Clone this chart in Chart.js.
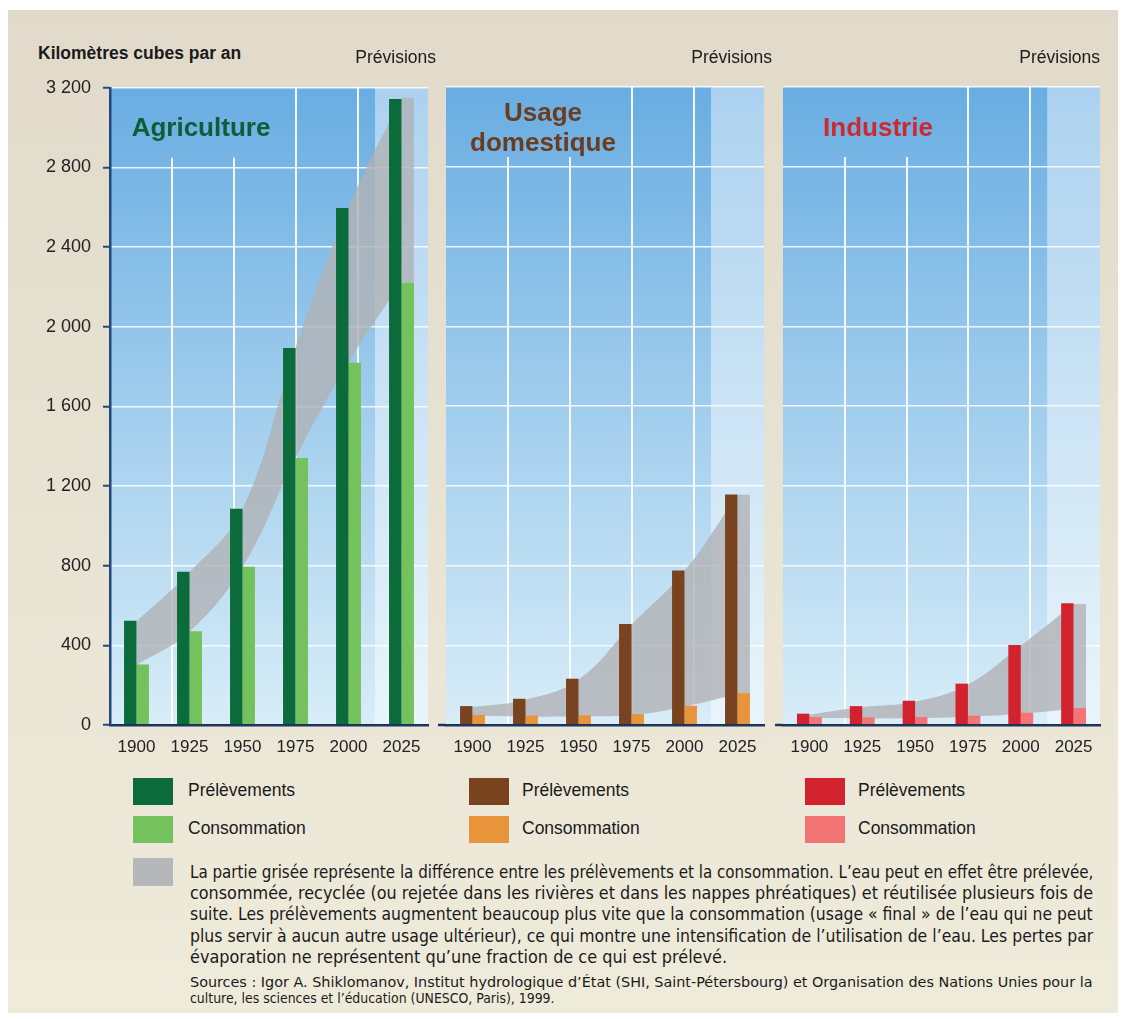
<!DOCTYPE html>
<html><head><meta charset="utf-8">
<script src="https://cdn.jsdelivr.net/npm/chart.js@4.4.1/dist/chart.umd.min.js"></script>
<style>
body{margin:0;background:#fff;width:1124px;height:1019px;overflow:hidden;font-family:'Liberation Sans',Arial,sans-serif;color:#1a1a1a;}
#frame{position:absolute;left:8px;top:10px;width:1110px;height:1003px;background:linear-gradient(#e1dacb,#efebdb);}
canvas{position:absolute;}
.t{position:absolute;white-space:nowrap;}
.n{font-size:17.5px;line-height:17.5px;}
.title{font-weight:bold;font-size:26px;line-height:26px;transform:translateX(-50%);text-align:center;}
.prev{font-size:17.5px;line-height:17.5px;transform:translateX(-100%);}
.sw{position:absolute;width:40px;height:27px;}
.fit{position:absolute;white-space:nowrap;transform-origin:0 0;font-family:'Liberation Sans Narrow','DejaVu Sans Condensed','Liberation Sans',Arial,sans-serif;}
</style></head><body>
<div id="frame"></div>
<canvas id="c1" width="416" height="705" style="left:20px;top:65px"></canvas>
<canvas id="c2" width="334" height="704" style="left:438px;top:66px"></canvas>
<canvas id="c3" width="333" height="704" style="left:775px;top:66px"></canvas>

<div class="t" style="left:38px;top:45px;font-weight:bold;font-size:17.5px;line-height:17.5px;">Kilomètres cubes par an</div>
<div class="t prev" style="left:436px;top:49px;">Prévisions</div>
<div class="t prev" style="left:772px;top:49px;">Prévisions</div>
<div class="t prev" style="left:1100px;top:49px;">Prévisions</div>

<div class="sw" style="left:133px;top:778px;background:#0b6b3a"></div>
<div class="sw" style="left:133px;top:816px;background:#74c25c"></div>
<div class="sw" style="left:469px;top:778px;background:#7a4320"></div>
<div class="sw" style="left:469px;top:816px;background:#e8943a"></div>
<div class="sw" style="left:805px;top:778px;background:#d2222d"></div>
<div class="sw" style="left:805px;top:816px;background:#f27474"></div>
<div class="t n" style="left:188px;top:782px;">Prélèvements</div>
<div class="t n" style="left:188px;top:820px;">Consommation</div>
<div class="t n" style="left:522px;top:782px;">Prélèvements</div>
<div class="t n" style="left:522px;top:820px;">Consommation</div>
<div class="t n" style="left:858px;top:782px;">Prélèvements</div>
<div class="t n" style="left:858px;top:820px;">Consommation</div>

<div class="sw" style="left:133px;top:858px;height:28px;background:#b6b7b9"></div>
<div class="fit" data-w="903" style="left:190px;top:864px;font-size:17px;line-height:17px;">La partie grisée représente la différence entre les prélèvements et la consommation. L’eau peut en effet être prélevée,</div>
<div class="fit" data-w="903" style="left:190px;top:885px;font-size:17px;line-height:17px;">consommée, recyclée (ou rejetée dans les rivières et dans les nappes phréatiques) et réutilisée plusieurs fois de</div>
<div class="fit" data-w="903" style="left:190px;top:906px;font-size:17px;line-height:17px;">suite. Les prélèvements augmentent beaucoup plus vite que la consommation (usage « final » de l’eau qui ne peut</div>
<div class="fit" data-w="903" style="left:190px;top:928px;font-size:17px;line-height:17px;">plus servir à aucun autre usage ultérieur), ce qui montre une intensification de l’utilisation de l’eau. Les pertes par</div>
<div class="fit" data-w="537" style="left:190px;top:949px;font-size:17px;line-height:17px;">évaporation ne représentent qu’une fraction de ce qui est prélevé.</div>
<div class="fit" data-w="903" style="left:190px;top:975px;font-size:14px;line-height:14px;">Sources : Igor A. Shiklomanov, Institut hydrologique d’État (SHI, Saint-Pétersbourg) et Organisation des Nations Unies pour la</div>
<div class="fit" data-w="365" style="left:190px;top:991px;font-size:14px;line-height:14px;">culture, les sciences et l’éducation (UNESCO, Paris), 1999.</div>

<script>
// ---- data (km³ per year) ----
const years = [1900, 1925, 1950, 1975, 2000, 2025];
const agriPrel = [520, 767, 1085, 1895, 2600, 3150];
const agriCons = [300, 468, 793, 1340, 1820, 2225];
const domPrel = [90, 127, 228, 503, 772, 1155];
const domCons = [46, 42, 44, 50, 92, 155];
const indPrel = [52, 90, 117, 203, 397, 607];
const indCons = [35, 33, 35, 42, 57, 80];
const yTicks = [0, 400, 800, 1200, 1600, 2000, 2400, 2800, 3200];

const CAT_PCT = 0.47;
const BAND = 'rgba(176,178,181,0.8)';
const AXIS = '#1b355f';
const FONT = "'Liberation Sans', Arial, sans-serif";

const bgPlugin = {
  id: 'bg',
  beforeDraw(chart) {
    const {ctx, chartArea: a, scales} = chart;
    ctx.save();
    const g = ctx.createLinearGradient(0, a.top, 0, a.bottom);
    g.addColorStop(0, '#69ade2');
    g.addColorStop(1, '#d8edf8');
    ctx.fillStyle = g;
    ctx.fillRect(a.left, a.top, a.width, a.height);
    const n = years.length;
    const fx = scales.x2.getPixelForValue((years[n - 2] + years[n - 1]) / 2);
    ctx.fillStyle = 'rgba(255,255,255,0.45)';
    ctx.fillRect(fx, a.top, a.right - fx, a.height);
    ctx.strokeStyle = 'rgba(255,255,255,0.9)';
    ctx.lineWidth = 2;
    for (let k = 1; k <= 4; k++) {
      const x = Math.round(a.left + k * a.width * 0.195);
      const y0 = k <= 2 ? a.top + 70 : a.top;
      ctx.beginPath(); ctx.moveTo(x, y0); ctx.lineTo(x, a.bottom); ctx.stroke();
    }
    ctx.restore();
  },
  afterDraw(chart, args, opts) {
    if (!opts.lead) return;
    const {ctx, chartArea: a} = chart;
    ctx.save();
    ctx.strokeStyle = AXIS; ctx.lineWidth = 2.5;
    ctx.beginPath(); ctx.moveTo(a.left - opts.lead, a.bottom); ctx.lineTo(a.left, a.bottom); ctx.stroke();
    ctx.restore();
  }
};

// panel: background, grid, axes and grey band (line chart)
function makePanel(id, prel, cons, showY) {
  const step = years[1] - years[0];
  const last = years.length - 1;
  const overhang = step / 2 * CAT_PCT;
  const upper = years.map((x, i) => ({x, y: prel[i]}));
  const lower = years.map((x, i) => ({x, y: cons[i]}));
  const upper2 = [{x: years[last], y: prel[last]}, {x: years[last] + overhang, y: prel[last]}];
  const lower2 = [{x: years[last], y: cons[last]}, {x: years[last] + overhang, y: cons[last]}];
  const lineBase = {xAxisID: 'x2', borderWidth: 0, pointRadius: 0, tension: 0.4};
  return new Chart(document.getElementById(id), {
    type: 'line',
    data: {
      labels: years.map(String),
      datasets: [
        Object.assign({}, lineBase, {label: 'écart', data: upper, fill: '+1', backgroundColor: BAND}),
        Object.assign({}, lineBase, {data: lower, fill: false}),
        Object.assign({}, lineBase, {data: upper2, fill: '+1', backgroundColor: BAND, tension: 0}),
        Object.assign({}, lineBase, {data: lower2, fill: false, tension: 0})
      ]
    },
    options: {
      responsive: false,
      animation: false,
      layout: {padding: showY ? {top: 17, right: 8, left: 0, bottom: 0} : {top: 21, right: 8, left: 8, bottom: 0}},
      plugins: {legend: {display: false}, tooltip: {enabled: false}, bg: {lead: showY ? 0 : 8}},
      scales: {
        x: {
          type: 'category', offset: true,
          grid: {display: false},
          border: {display: true, color: AXIS, width: 2.5},
          ticks: {color: '#222', font: {family: FONT, size: 17}, padding: 4, maxRotation: 0},
          afterFit: s => { s.height = 45; }
        },
        x2: {
          type: 'linear', display: false, offset: false,
          min: years[0] - step / 2, max: years[last] + step / 2
        },
        y: {
          min: yTicks[0], max: yTicks[yTicks.length - 1],
          afterBuildTicks: s => { s.ticks = yTicks.map(v => ({value: v})); },
          grid: {color: 'rgba(255,255,255,0.85)', lineWidth: 1.5, drawTicks: showY, tickLength: 7, tickColor: '#23477f', tickWidth: 2},
          border: {display: showY, color: '#23477f', width: 2.5},
          ticks: {
            display: showY, color: '#222', padding: 12, font: {family: FONT, size: 18},
            callback: v => v >= 1000 ? Math.floor(v / 1000) + ' ' + String(v % 1000).padStart(3, '0') : String(v)
          },
          afterFit: s => { s.width = showY ? 90 : 0; }
        }
      }
    },
    plugins: [bgPlugin]
  });
}

// bars: separate transparent chart laid exactly over the panel's plot area
function makeBars(panel, prel, cons, colors) {
  const src = panel.canvas;
  const a = panel.chartArea;
  const cv = document.createElement('canvas');
  cv.width = Math.round(a.right - a.left);
  cv.height = Math.round(a.bottom - a.top) - 1;
  cv.style.left = (parseFloat(src.style.left) + a.left) + 'px';
  cv.style.top = (parseFloat(src.style.top) + a.top) + 'px';
  document.body.appendChild(cv);
  return new Chart(cv, {
    type: 'bar',
    data: {
      labels: years.map(String),
      datasets: [
        {label: 'Prélèvements', data: prel, backgroundColor: colors[0], categoryPercentage: CAT_PCT, barPercentage: 1},
        {label: 'Consommation', data: cons, backgroundColor: colors[1], categoryPercentage: CAT_PCT, barPercentage: 1}
      ]
    },
    options: {
      responsive: false,
      animation: false,
      layout: {padding: 0},
      plugins: {legend: {display: false}, tooltip: {enabled: false}},
      scales: {
        x: {type: 'category', offset: true, display: false},
        y: {display: false, min: yTicks[0], max: yTicks[yTicks.length - 1] * (cv.height + 1) / cv.height}
      }
    }
  });
}

const p1 = makePanel('c1', agriPrel, agriCons, true);
const p2 = makePanel('c2', domPrel, domCons, false);
const p3 = makePanel('c3', indPrel, indCons, false);
makeBars(p1, agriPrel, agriCons, ['#0b6b3a', '#74c25c']);
makeBars(p2, domPrel, domCons, ['#7a4320', '#e8943a']);
makeBars(p3, indPrel, indCons, ['#d2222d', '#f27474']);

// titles drawn above everything
const titles = [
  ['Agriculture', 201, 114, '#0f5c38'],
  ['Usage<br>domestique', 543, 97, '#6b3c20'],
  ['Industrie', 878, 114, '#cc2a31']
];
titles.forEach(([txt, x, y, c]) => {
  const d = document.createElement('div');
  d.className = 't title';
  d.style.left = x + 'px'; d.style.top = y + 'px'; d.style.color = c;
  if (txt.includes('<br>')) d.style.lineHeight = '30px';
  d.innerHTML = txt;
  document.body.appendChild(d);
});

document.querySelectorAll('.fit').forEach(el => {
  const w = el.offsetWidth;
  const target = +el.dataset.w;
  el.style.transform = 'scaleX(' + (target / w) + ')';
});
</script>
</body></html>
